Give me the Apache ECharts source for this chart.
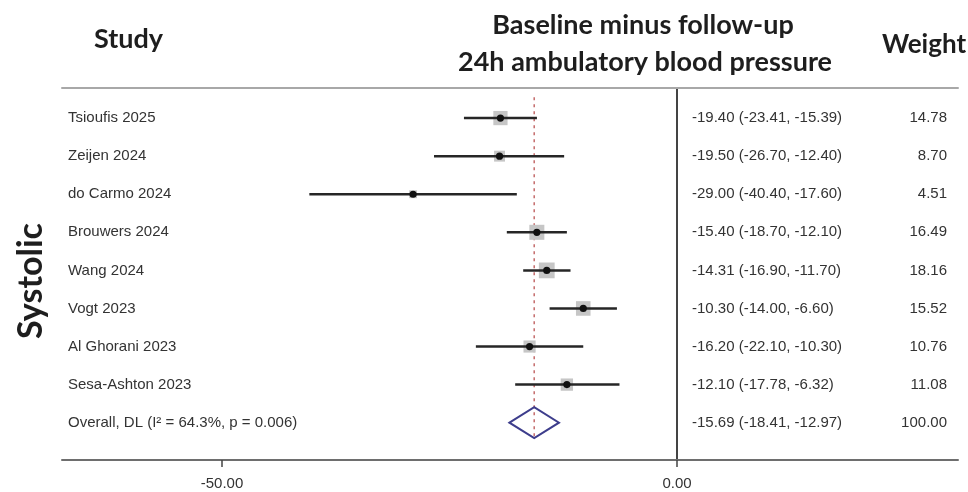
<!DOCTYPE html>
<html>
<head>
<meta charset="utf-8">
<script src="https://cdn.jsdelivr.net/npm/echarts@6/dist/echarts.min.js"></script>
<style>
  html, body { margin: 0; padding: 0; background: #fff; }
  #container { width: 968px; height: 492px; }
</style>
</head>
<body>
<div id="container"></div>
<script>
// Study rows (top to bottom)
const studies = ['Tsioufis 2025', 'Zeijen 2024', 'do Carmo 2024', 'Brouwers 2024',
  'Wang 2024', 'Vogt 2023', 'Al Ghorani 2023', 'Sesa-Ashton 2023'];
const effects = [-19.40, -19.50, -29.00, -15.40, -14.31, -10.30, -16.20, -12.10];
const lower = [-23.41, -26.70, -40.40, -18.70, -16.90, -14.00, -22.10, -17.78];
const upper = [-15.39, -12.40, -17.60, -12.10, -11.70, -6.60, -10.30, -6.32];
const weights = [14.78, 8.70, 4.51, 16.49, 18.16, 15.52, 10.76, 11.08];

// Pooled estimate
const overallLabel = 'Overall, DL (I\u00B2 = 64.3%, p = 0.006)';
const overallEffect = -15.69;
const overallLower = -18.41;
const overallUpper = -12.97;
const overallWeight = 100.00;

const xTicks = [-50, 0];

const container = document.getElementById('container');
const chart = echarts.init(container);

const textColor = '#333';
const headFont = 'Lato, "Open Sans", sans-serif';
const bodyFont = '"Liberation Sans", Arial, sans-serif';

const rowIdx = studies.map((_, i) => i);

function ciText(e, lo, hi) {
  return e.toFixed(2) + ' (' + lo.toFixed(2) + ', ' + hi.toFixed(2) + ')';
}

const tableRows = studies.map((s, i) => [i, s, ciText(effects[i], lower[i], upper[i]), weights[i].toFixed(2)]);
tableRows.push([studies.length, overallLabel, ciText(overallEffect, overallLower, overallUpper), overallWeight.toFixed(2)]);

const option = {
  animation: false,
  grid: { left: 62, right: 10, top: 88, bottom: 32 },
  xAxis: [{
    type: 'value',
    min: -67.58,
    max: 30.88,
    splitLine: { show: false },
    axisLine: { onZero: false, lineStyle: { color: '#6e6e6e', width: 2 } },
    axisTick: { customValues: xTicks, length: 7, lineStyle: { color: '#444', width: 1.5 } },
    axisLabel: {
      customValues: xTicks,
      formatter: v => v.toFixed(2),
      fontSize: 15, fontFamily: bodyFont, color: textColor, margin: 16
    }
  }, {
    type: 'value',
    position: 'top',
    min: -67.58,
    max: 30.88,
    splitLine: { show: false },
    axisLine: { onZero: false, lineStyle: { color: '#a8a8a8', width: 2 } },
    axisTick: { show: false },
    axisLabel: { show: false }
  }],
  yAxis: {
    type: 'value',
    inverse: true,
    min: -0.79,
    max: 8.98,
    splitLine: { show: false },
    axisTick: { show: false },
    axisLabel: { show: false },
    axisLine: { show: true, onZero: true, lineStyle: { color: '#444', width: 2 } }
  },
  graphic: [
    { type: 'text', left: 94, top: 26, style: { text: 'Study', font: 'bold 27px ' + headFont, fill: '#1e1e1e' } },
    { type: 'text', x: 643, y: 25, style: { text: 'Baseline minus follow-up', font: 'bold 27px ' + headFont, fill: '#1e1e1e', align: 'center', verticalAlign: 'middle' } },
    { type: 'text', x: 645, y: 62, style: { text: '24h ambulatory blood pressure', font: 'bold 27px ' + headFont, fill: '#1e1e1e', align: 'center', verticalAlign: 'middle' } },
    { type: 'text', x: 924, y: 45, style: { text: 'Weight', font: 'bold 26px ' + headFont, fill: '#1e1e1e', align: 'center', verticalAlign: 'middle' } },
    { type: 'text', x: 31, y: 281, rotation: Math.PI / 2, style: { text: 'Systolic', font: 'bold 34px ' + headFont, fill: '#1e1e1e', align: 'center', verticalAlign: 'middle' } }
  ],
  series: [
    {
      // reference line at pooled estimate
      type: 'line',
      symbol: 'none',
      silent: true,
      data: [[overallEffect, -0.55], [overallEffect, 8.45]],
      lineStyle: { color: '#c46a6a', width: 1.5, type: [3, 4] },
      z: 1
    },
    {
      type: 'custom',
      data: rowIdx.map(i => [i, effects[i], lower[i], upper[i], weights[i]]),
      renderItem(params, api) {
        const i = api.value(0);
        const pE = api.coord([api.value(1), i]);
        const pLo = api.coord([api.value(2), i]);
        const pHi = api.coord([api.value(3), i]);
        const s = Math.sqrt(api.value(4)) * 3.7;
        return {
          type: 'group',
          children: [
            { type: 'rect', shape: { x: pE[0] - s / 2, y: pE[1] - s / 2, width: s, height: s }, style: { fill: '#c6c6c6' } },
            { type: 'line', shape: { x1: pLo[0], y1: pLo[1], x2: pHi[0], y2: pHi[1] }, style: { stroke: '#262626', lineWidth: 2.5 } },
            { type: 'circle', shape: { cx: pE[0], cy: pE[1], r: 3.6 }, style: { fill: '#111' } }
          ]
        };
      },
      z: 3
    },
    {
      type: 'custom',
      data: [[studies.length, overallEffect, overallLower, overallUpper]],
      renderItem(params, api) {
        const i = api.value(0);
        const c = api.coord([api.value(1), i]);
        const l = api.coord([api.value(2), i]);
        const r = api.coord([api.value(3), i]);
        const h = 15.5;
        return {
          type: 'polygon',
          shape: { points: [[l[0], c[1]], [c[0], c[1] - h], [r[0], c[1]], [c[0], c[1] + h]] },
          style: { fill: 'none', stroke: '#3d3d8c', lineWidth: 2 }
        };
      },
      z: 4
    },
    {
      type: 'custom',
      data: tableRows,
      renderItem(params, api) {
        const i = api.value(0);
        const y = api.coord([0, i])[1];
        const row = tableRows[params.dataIndex];
        const base = { font: '15px ' + bodyFont, fill: textColor, verticalAlign: 'middle' };
        return {
          type: 'group',
          children: [
            { type: 'text', x: 68, y: y, style: Object.assign({ text: row[1], align: 'left' }, base) },
            { type: 'text', x: 692, y: y, style: Object.assign({ text: row[2], align: 'left' }, base) },
            { type: 'text', x: 947, y: y, style: Object.assign({ text: row[3], align: 'right' }, base) }
          ]
        };
      },
      z: 5
    }
  ]
};

chart.setOption(option);
</script>
</body>
</html>
